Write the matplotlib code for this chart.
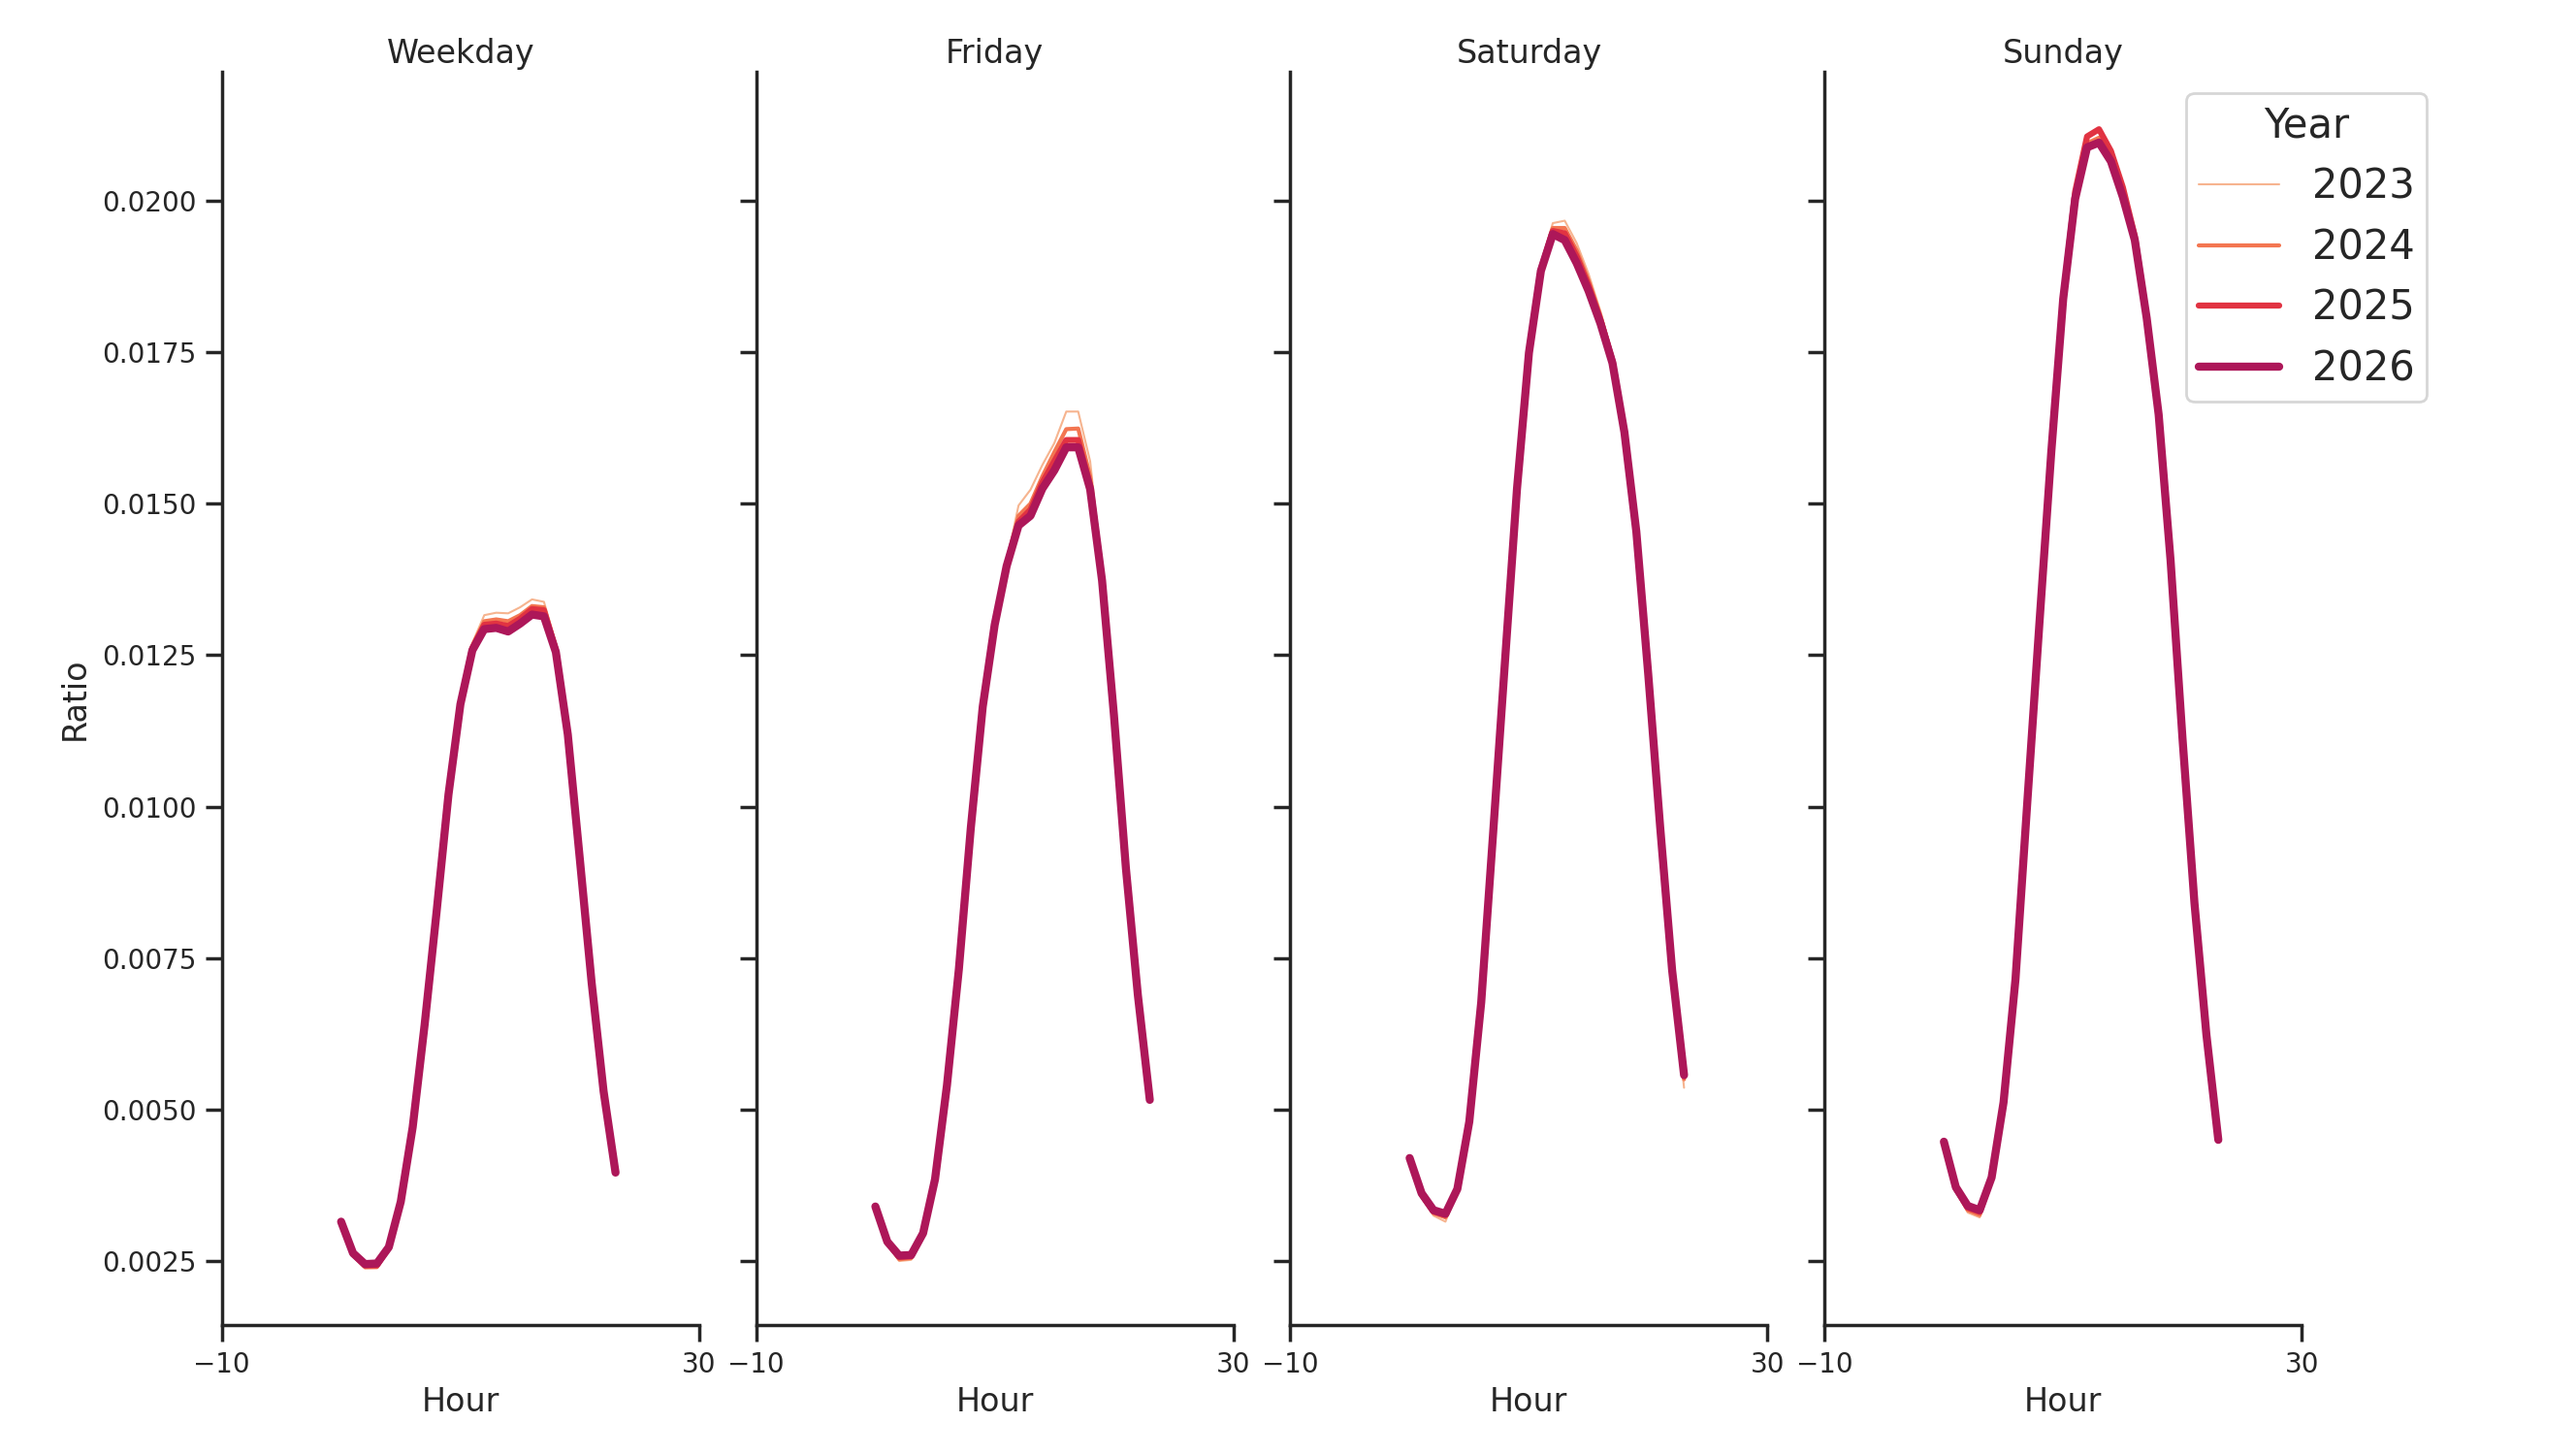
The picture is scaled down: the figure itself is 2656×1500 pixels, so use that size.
import numpy as np
import matplotlib.pyplot as plt
import seaborn as sns

sns.set_theme(style="ticks")
plt.rcParams['font.family'] = ['DejaVu Sans']

hours = list(range(24))
day_types = ["Weekday", "Friday", "Saturday", "Sunday"]
years = [2023, 2024, 2025, 2026]
year_colors = ["#f6b48f", "#f37651", "#e13342", "#ad1759"]
year_widths = [0.75, 1.5, 2.25, 3.0]

weekday_2023 = [0.00313, 0.00259, 0.00238, 0.00239, 0.00270, 0.00346, 0.00470, 0.00640, 0.00827, 0.01022, 0.01173, 0.01270,
                0.01316, 0.01320, 0.01319, 0.01329, 0.01342, 0.01338, 0.01270, 0.01124, 0.00917, 0.00709, 0.00529, 0.00395]
weekday_2024 = [0.00314, 0.00260, 0.00240, 0.00240, 0.00271, 0.00347, 0.00470, 0.00640, 0.00826, 0.01021, 0.01171, 0.01265,
                0.01306, 0.01309, 0.01306, 0.01316, 0.01331, 0.01329, 0.01263, 0.01122, 0.00916, 0.00709, 0.00530, 0.00396]
weekday_2025 = [0.00315, 0.00262, 0.00243, 0.00243, 0.00272, 0.00348, 0.00471, 0.00640, 0.00826, 0.01020, 0.01170, 0.01262,
                0.01300, 0.01302, 0.01298, 0.01310, 0.01326, 0.01324, 0.01259, 0.01120, 0.00915, 0.00709, 0.00530, 0.00396]
weekday_2026 = [0.00315, 0.00263, 0.00245, 0.00246, 0.00273, 0.00348, 0.00471, 0.00640, 0.00826, 0.01020, 0.01169, 0.01258,
                0.01293, 0.01295, 0.01289, 0.01302, 0.01317, 0.01314, 0.01255, 0.01119, 0.00915, 0.00709, 0.00530, 0.00396]

friday_2023 = [0.00338, 0.00278, 0.00250, 0.00252, 0.00292, 0.00383, 0.00540, 0.00733, 0.00966, 0.01168, 0.01305, 0.01405,
               0.01497, 0.01523, 0.01564, 0.01600, 0.01652, 0.01652, 0.01570, 0.01390, 0.01160, 0.00902, 0.00690, 0.00516]
friday_2024 = [0.00339, 0.00280, 0.00253, 0.00255, 0.00294, 0.00384, 0.00540, 0.00732, 0.00965, 0.01166, 0.01302, 0.01400,
               0.01480, 0.01500, 0.01545, 0.01585, 0.01623, 0.01624, 0.01545, 0.01382, 0.01155, 0.00900, 0.00689, 0.00516]
friday_2025 = [0.00340, 0.00281, 0.00257, 0.00258, 0.00295, 0.00385, 0.00540, 0.00732, 0.00965, 0.01165, 0.01300, 0.01398,
               0.01470, 0.01490, 0.01535, 0.01570, 0.01605, 0.01605, 0.01530, 0.01376, 0.01152, 0.00899, 0.00689, 0.00516]
friday_2026 = [0.00340, 0.00282, 0.00259, 0.00260, 0.00296, 0.00385, 0.00540, 0.00732, 0.00965, 0.01165, 0.01300, 0.01397,
               0.01464, 0.01480, 0.01525, 0.01555, 0.01593, 0.01593, 0.01524, 0.01373, 0.01150, 0.00898, 0.00689, 0.00516]

saturday_2023 = [0.00416, 0.00355, 0.00325, 0.00315, 0.00364, 0.00478, 0.00677, 0.00958, 0.01244, 0.01530, 0.01756, 0.01895,
                 0.01963, 0.01967, 0.01930, 0.01879, 0.01817, 0.01744, 0.01625, 0.01458, 0.01218, 0.00962, 0.00722, 0.00536]
saturday_2024 = [0.00418, 0.00358, 0.00329, 0.00322, 0.00366, 0.00479, 0.00677, 0.00957, 0.01243, 0.01528, 0.01753, 0.01890,
                 0.01955, 0.01955, 0.01918, 0.01868, 0.01810, 0.01740, 0.01622, 0.01456, 0.01218, 0.00964, 0.00727, 0.00550]
saturday_2025 = [0.00419, 0.00360, 0.00332, 0.00326, 0.00368, 0.00480, 0.00677, 0.00957, 0.01242, 0.01526, 0.01751, 0.01887,
                 0.01950, 0.01946, 0.01908, 0.01860, 0.01803, 0.01736, 0.01620, 0.01455, 0.01218, 0.00965, 0.00729, 0.00555]
saturday_2026 = [0.00420, 0.00362, 0.00334, 0.00328, 0.00369, 0.00480, 0.00677, 0.00957, 0.01242, 0.01525, 0.01749, 0.01884,
                 0.01945, 0.01935, 0.01897, 0.01851, 0.01797, 0.01732, 0.01618, 0.01454, 0.01218, 0.00966, 0.00730, 0.00557]

sunday_2023 = [0.00444, 0.00366, 0.00330, 0.00322, 0.00384, 0.00510, 0.00714, 0.01010, 0.01302, 0.01587, 0.01840, 0.02006,
               0.02092, 0.02100, 0.02070, 0.02010, 0.01938, 0.01807, 0.01647, 0.01405, 0.01111, 0.00840, 0.00623, 0.00449]
sunday_2024 = [0.00445, 0.00368, 0.00334, 0.00326, 0.00386, 0.00511, 0.00714, 0.01010, 0.01302, 0.01586, 0.01839, 0.02008,
               0.02095, 0.02104, 0.02072, 0.02012, 0.01938, 0.01807, 0.01647, 0.01406, 0.01112, 0.00841, 0.00624, 0.00450]
sunday_2025 = [0.00446, 0.00370, 0.00338, 0.00331, 0.00387, 0.00512, 0.00715, 0.01010, 0.01302, 0.01586, 0.01840, 0.02015,
               0.02106, 0.02118, 0.02082, 0.02022, 0.01942, 0.01808, 0.01647, 0.01406, 0.01112, 0.00841, 0.00624, 0.00450]
sunday_2026 = [0.00447, 0.00372, 0.00341, 0.00334, 0.00388, 0.00512, 0.00715, 0.01010, 0.01301, 0.01585, 0.01838, 0.02003,
               0.02088, 0.02096, 0.02065, 0.02006, 0.01935, 0.01806, 0.01647, 0.01406, 0.01112, 0.00841, 0.00624, 0.00450]

ratios = {
    "Weekday": [weekday_2023, weekday_2024, weekday_2025, weekday_2026],
    "Friday": [friday_2023, friday_2024, friday_2025, friday_2026],
    "Saturday": [saturday_2023, saturday_2024, saturday_2025, saturday_2026],
    "Sunday": [sunday_2023, sunday_2024, sunday_2025, sunday_2026],
}

fig = plt.figure(figsize=(13.28, 7.5), dpi=200)

left0, step, width = 0.0861, 0.2074, 0.18527
bottom, height = 0.08916, 0.86118

axes = []
for i, day in enumerate(day_types):
    ax = fig.add_axes([left0 + i * step, bottom, width, height],
                      sharey=axes[0] if axes else None)
    for year, color, lw, vals in zip(years, year_colors, year_widths, ratios[day]):
        ax.plot(hours, vals, color=color, lw=lw, label=str(year),
                solid_capstyle="round")
    ax.set_xlim(-10, 30)
    ax.set_xticks([-10, 30])
    ax.set_title(day, fontsize=12, color=".15", pad=3.5)
    ax.set_xlabel("Hour", fontsize=12, color=".15", labelpad=3)
    ax.tick_params(labelsize=10, colors=".15")
    sns.despine(ax=ax)
    if i > 0:
        ax.tick_params(labelleft=False)
    axes.append(ax)

axes[0].set_yticks(np.arange(0.0025, 0.0201, 0.0025))
axes[0].set_ylabel("Ratio", fontsize=12, color=".15")

handles, labels = axes[0].get_legend_handles_labels()
leg = fig.legend(handles, labels, title="Year", loc="upper right",
                 bbox_to_anchor=(0.942, 0.936), borderaxespad=0,
                 borderpad=0.3, fontsize=15, title_fontsize=15, frameon=True)

fig.savefig("out.png", dpi=200)
